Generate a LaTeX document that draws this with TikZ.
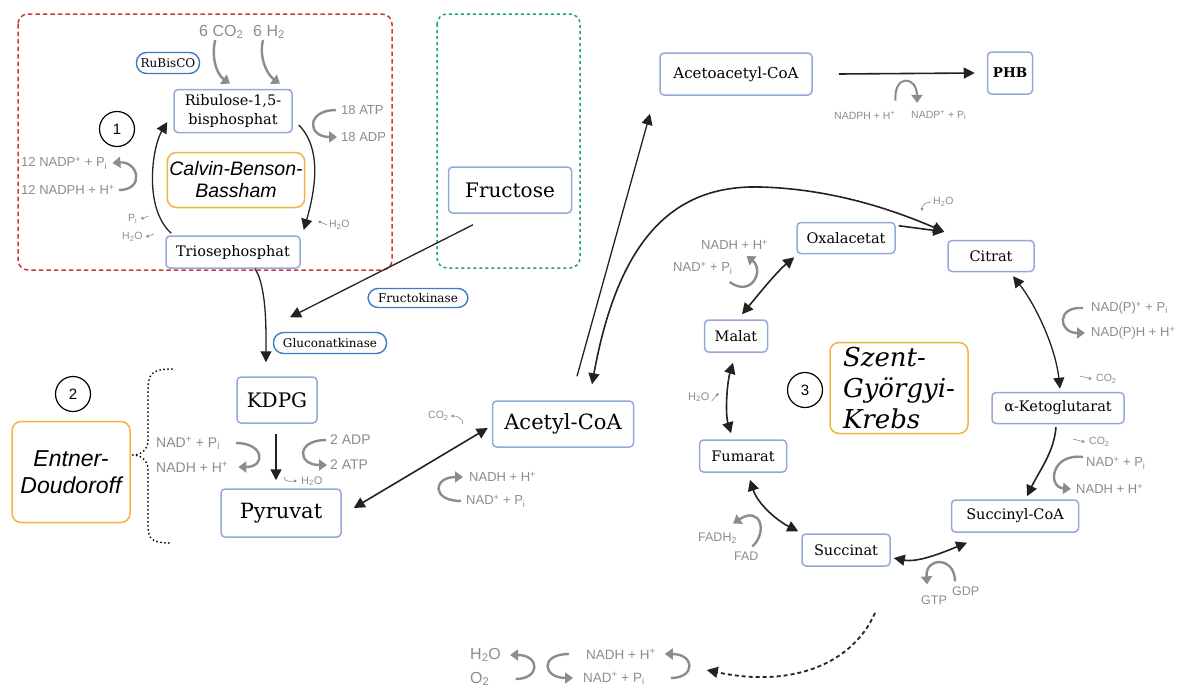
\documentclass[tikz,border=0pt]{standalone}
\usepackage{fontspec}
\setmainfont{DejaVu Serif}
\setsansfont{Liberation Sans}
\usetikzlibrary{arrows.meta,positioning}
\definecolor{box-blue}{HTML}{94A9D9}
\definecolor{enz-blue}{HTML}{3A7DC2}
\definecolor{path-orange}{HTML}{F2B440}
\definecolor{cbb-red}{HTML}{D1393B}
\definecolor{fru-teal}{HTML}{1B9E8E}
\definecolor{side-gray}{HTML}{8C8C8C}
\definecolor{arrow-black}{HTML}{222222}
\newcommand{\Pin}{P\textsubscript{i}}
\newcommand{\Hpl}{H\textsuperscript{+}}
\newcommand{\water}{H\textsubscript{2}O}
\newcommand{\cdiox}{CO\textsubscript{2}}

\begin{document}
\begin{tikzpicture}[x=1pt,y=-1pt,
  met/.style={draw=box-blue,line width=1.5pt,rounded corners=4pt,fill=white,inner sep=2pt,align=center,font=\fontsize{#1}{19}\selectfont},
  met/.default=14.5,
  enz/.style={draw=enz-blue,line width=1.4pt,rounded corners=10pt,inner sep=0pt,font=\fontsize{12}{14}\selectfont},
  pathbox/.style={draw=path-orange,line width=1.5pt,rounded corners=9pt,inner sep=2pt,align=center},
  num/.style={circle,draw,line width=1.2pt,minimum size=35pt,inner sep=0pt,font=\sffamily\fontsize{15}{15}\selectfont},
  side/.style={text=side-gray,inner sep=1pt,anchor=west,font=\sffamily\fontsize{#1}{#1}\selectfont},
  side/.default=13,
  flow/.style={arrow-black,line width=1.6pt,-{Triangle[length=11pt,width=11pt]}},
  twoway/.style={arrow-black,line width=1.6pt,{Triangle[length=11pt,width=11pt]}-{Triangle[length=11pt,width=11pt]}},
  loopar/.style={side-gray,line width=2.4pt,-{Triangle[length=8pt,width=11pt]}},
  tinyar/.style={side-gray,line width=0.6pt,-{Triangle[length=3pt,width=3pt]}},
]
\useasboundingbox (0,0) rectangle (1178,689);

% Calvin-Benson-Bassham
\draw[cbb-red,line width=1.5pt,dash pattern=on 4.5pt off 3pt,rounded corners=10pt] (18,14) rectangle (392,270);
\node[met,minimum width=118pt,minimum height=43pt] (rubp) at (233,111) {Ribulose-1,5-\\bisphosphat};
\node[met,minimum width=134pt,minimum height=32pt] (trio) at (233,252) {Triosephosphat};
\node[pathbox,minimum width=137pt,minimum height=55pt,font=\sffamily\itshape\fontsize{19.5}{22}\selectfont] (cbb) at (236,180) {Calvin-Benson-\\Bassham};
\node[num] (n1) at (117,129) {1};
\node[enz,minimum width=63pt,minimum height=21pt] (rubisco) at (168,63) {RuBisCO};
\node[side=16] (co2in) at (198,32) {6 \cdiox};
\node[side=16] (h2in) at (252,32) {6 H\textsubscript{2}};
\node[side] (atp) at (340,110) {18 ATP};
\node[side] (adp) at (340,137) {18 ADP};
\node[side] (nadpox) at (20,163) {12 NADP\textsuperscript{+} + \Pin};
\node[side] (nadph) at (20,190) {12 NADPH + \Hpl};
\node[side=10.5] (pia) at (127,219) {\Pin};
\node[side=10.5] (h2oa) at (121,237) {\water};
\node[side=10.5] (h2ob) at (328,225) {\water};
\draw[loopar] ([xshift=-6pt]co2in.south) .. controls +(-4,16) and +(-14,-10) .. ([shift={(-3,-5)}]rubp.north);
\draw[loopar] ([xshift=-6pt]h2in.south) .. controls +(-4,16) and +(-14,-10) .. ([shift={(47,-5)}]rubp.north);
\draw[loopar] ([xshift=-4pt]atp.west) .. controls +(-30,0) and +(-30,0) .. ([xshift=-3pt]adp.west);
\draw[loopar] ([xshift=3pt]nadph.east) .. controls +(26,0) and +(26,-2) .. ([xshift=4pt]nadpox.east);
\draw[tinyar] ([shift={(10,-3)}]pia.east) -- ([xshift=2pt]pia.east);
\draw[tinyar] ([shift={(10,-3)}]h2oa.east) -- ([xshift=2pt]h2oa.east);
\draw[tinyar] ([xshift=-1pt]h2ob.west) -- ([shift={(-10,-4)}]h2ob.west);
\draw[flow,line width=1.3pt] ([shift={(6,-2)}]trio.north west) .. controls +(-28,-25) and +(-15,25) .. ([shift={(-6,11)}]rubp.west);
\draw[flow,line width=1.3pt] ([shift={(6,14)}]rubp.east) .. controls +(25,25) and +(10,-35) .. ([shift={(3,-22)}]trio.east);

% Fructose
\draw[fru-teal,line width=1.5pt,dash pattern=on 3pt off 3pt,rounded corners=10pt] (437,14) rectangle (580,268);
\node[met=20,minimum width=123pt,minimum height=46pt] (fru) at (510,190) {Fructose};
\node[enz,minimum width=100pt,minimum height=19pt] (fruk) at (418,298) {Fructokinase};
\node[enz,minimum width=113pt,minimum height=21pt] (gluk) at (330,343) {Gluconatkinase};

% Entner-Doudoroff
\node[met=20,minimum width=80pt,minimum height=46pt] (kdpg) at (277,400) {KDPG};
\node[met=21,minimum width=120pt,minimum height=48pt] (pyr) at (281,513) {Pyruvat};
\node[pathbox,minimum width=118pt,minimum height=101pt,font=\sffamily\itshape\fontsize{23}{27}\selectfont] (ed) at (71,472) {Entner-\\Doudoroff};
\node[num] (n2) at (73,394) {2};
\node[side=14] (nadoxed) at (155,443) {NAD\textsuperscript{+} + \Pin};
\node[side=14] (nadhed) at (155,467) {NADH + \Hpl};
\node[side=14] (adp2) at (329,440) {2 ADP};
\node[side=14] (atp2) at (329,465) {2 ATP};
\node[side=11] (h2oc) at (300,481) {\water};
\draw[flow,line width=1.3pt] ([shift={(22,0)}]trio.south) .. controls +(12,18) and +(0,-30) .. ([shift={(-11,-14)}]kdpg.north);
\draw[flow,line width=1.3pt] ([shift={(-37,11)}]fru.south) -- ([shift={(13,-59)}]kdpg.north);
\draw[flow] ([shift={(-1,10)}]kdpg.south) -- ([shift={(-5,-8)}]pyr.north);
\draw[loopar] ([xshift=15pt]nadoxed.east) .. controls +(28,0) and +(28,0) .. ([xshift=9pt]nadhed.east);
\draw[loopar] ([xshift=-3pt]adp2.west) .. controls +(-30,0) and +(-30,0) .. ([xshift=-2pt]atp2.west);
\draw[tinyar] ([shift={(-16,-4)}]h2oc.west) .. controls +(0,6) and +(-4,0) .. ([xshift=-3pt]h2oc.west);
\draw[line width=2pt,line cap=round,dash pattern=on 0pt off 4pt] (172,369) .. controls (152,369) and (148,374) .. (148,390) -- (148,440) .. controls (148,450) and (141,455) .. ([shift={(2,-17)}]ed.east) .. controls (141,455) and (148,460) .. (148,470) -- (148,525) .. controls (148,540) and (152,543) .. (172,543);

% Acetyl-CoA and PHB
\node[met=21,minimum width=141pt,minimum height=46pt] (accoa) at (563,424) {Acetyl-CoA};
\node[met=15,minimum width=152pt,minimum height=42pt] (aacoa) at (736,74) {Acetoacetyl-CoA};
\node[met=13.5,minimum width=45pt,minimum height=42pt,font=\bfseries\fontsize{13.5}{16}\selectfont] (phb) at (1010,73) {PHB};
\node[side=10.5] (co2b) at (427,416) {\cdiox};
\node[side] (nadhac) at (468,477) {NADH + \Hpl};
\node[side] (nadac) at (465,501) {NAD\textsuperscript{+} + \Pin};
\node[side=10.5] (nadphb) at (833,115) {NADPH + \Hpl};
\node[side=10.5] (nadpb) at (910,115) {NADP\textsuperscript{+} + \Pin};
\draw[twoway] ([shift={(12,-5)}]pyr.east) -- ([shift={(-4,4)}]accoa.west);
\draw[tinyar] ([shift={(13,8)}]co2b.east) .. controls +(0,-7) and +(5,0) .. ([xshift=1pt]co2b.east);
\draw[loopar] ([xshift=-4pt]nadac.west) .. controls +(-30,0) and +(-30,0) .. ([xshift=-5pt]nadhac.west);
\draw[flow,line width=1.3pt] ([shift={(14,-24)}]accoa.north) -- ([shift={(-86,18)}]aacoa.south);
\draw[flow] ([xshift=26pt]aacoa.east) -- ([xshift=-12pt]phb.west);
\draw[loopar,line width=2pt] ([shift={(-1,-9)}]nadphb.north east) .. controls +(-2,-27) and +(0,-27) .. ([shift={(7,-6)}]nadpb.north west);

% Szent-Gyoergyi-Krebs
\node[met,minimum width=98pt,minimum height=31pt] (oaa) at (846,238) {Oxalacetat};
\node[met,minimum width=86pt,minimum height=31pt] (cit) at (991,256) {Citrat};
\node[met,minimum width=63pt,minimum height=32pt] (mal) at (736,336) {Malat};
\node[met,minimum width=132pt,minimum height=31pt] (akg) at (1058,408) {α-Ketoglutarat};
\node[met,minimum width=87pt,minimum height=32pt] (fum) at (743,456) {Fumarat};
\node[met,minimum width=127pt,minimum height=32pt] (sucoa) at (1015,516) {Succinyl-CoA};
\node[met,minimum width=88pt,minimum height=32pt] (suc) at (846,550) {Succinat};
\node[pathbox,minimum width=138pt,minimum height=91pt,align=left,font=\itshape\fontsize{26}{31}\selectfont] (skrebs) at (899,388) {Szent-\\Györgyi-\\Krebs};
\node[num] (n3) at (805,390) {3};
\node[side=10.5] (h2od) at (932,202) {\water};
\node[side] (nadhox) at (700,245) {NADH + \Hpl};
\node[side] (nadox) at (672,268) {NAD\textsuperscript{+} + \Pin};
\node[side=11] (h2oe) at (687,397) {\water};
\node[side=12.5] (fadh) at (697,538) {FADH\textsubscript{2}};
\node[side=12.5] (fad) at (733,556) {FAD};
\node[side=12.5] (gtp) at (920,600) {GTP};
\node[side=12.5] (gdp) at (951,591) {GDP};
\node[side] (nadpox3) at (1090,308) {NAD(P)\textsuperscript{+} + \Pin};
\node[side] (nadph3) at (1090,333) {NAD(P)H + \Hpl};
\node[side=10.5] (co2c) at (1095,379) {\cdiox};
\node[side=10.5] (co2d) at (1088,442) {\cdiox};
\node[side] (nad4) at (1085,463) {NAD\textsuperscript{+} + \Pin};
\node[side] (nadh4) at (1075,489) {NADH + \Hpl};
\draw[twoway] ([shift={(29,-16)}]accoa.north) .. controls (620,230) and (680,185) .. (760,187) .. controls (840,189) and (905,215) .. ([shift={(-3,-8)}]cit.north west);
\draw[flow] ([shift={(3,4)}]oaa.north east) -- ([shift={(-3,-8)}]cit.north west);
\draw[twoway] ([shift={(6,-5)}]mal.north) .. controls +(15,-18) and +(-18,15) .. ([shift={(-2,3)}]oaa.south west);
\draw[twoway] ([shift={(-3,10)}]mal.south) .. controls +(-6,20) and +(-6,-20) .. ([shift={(-12,-6)}]fum.north);
\draw[twoway] ([shift={(7,7)}]fum.south) .. controls +(8,25) and +(-20,-10) .. ([shift={(-3,-2)}]suc.north west);
\draw[twoway] ([shift={(3,8)}]suc.east) .. controls +(25,5) and +(-20,8) .. ([shift={(-48,10)}]sucoa.south);
\draw[flow] ([shift={(-2,3)}]akg.south) .. controls +(-2,25) and +(12,-25) .. ([shift={(12,-3)}]sucoa.north);
\draw[twoway,line width=1.3pt] ([shift={(22,4)}]cit.south) .. controls +(20,25) and +(-5,-45) .. ([shift={(2,-3)}]akg.north);
\draw[tinyar] ([xshift=-1pt]h2od.west) .. controls +(-6,0) and +(0,-5) .. ([shift={(-10,9)}]h2od.west);
\draw[loopar] ([shift={(-4,14)}]nadox.east) .. controls +(22,16) and +(18,14) .. ([shift={(12,5)}]nadhox.south);
\draw[tinyar] ([shift={(1,4)}]h2oe.east) -- ([shift={(8,-4)}]h2oe.east);
\draw[loopar] ([shift={(6,-4)}]fad.north) .. controls +(16,-15) and +(27,-18) .. ([shift={(-5,-8)}]fadh.north east);
\draw[loopar] ([shift={(4,-4)}]gdp.north west) .. controls +(0,-25) and +(-2,-28) .. ([shift={(-7,-10)}]gtp.north);
\draw[loopar] ([xshift=-7pt]nadpox3.west) .. controls +(-27,-2) and +(-27,0) .. ([xshift=-5pt]nadph3.west);
\draw[tinyar] ([shift={(-15,-3)}]co2c.west) -- ([xshift=-3pt]co2c.west);
\draw[tinyar] ([shift={(-15,-3)}]co2d.west) -- ([xshift=-3pt]co2d.west);
\draw[loopar] ([shift={(-2,-6)}]nad4.west) .. controls +(-32,-4) and +(-24,-2) .. ([xshift=-4pt]nadh4.west);

% respiration
\node[side=16] (h2obot) at (469,655) {\water};
\node[side=16] (o2bot) at (469,679) {O\textsubscript{2}};
\node[side=13.5] (nadhbot) at (585,654) {NADH + \Hpl};
\node[side=13.5] (nadbot) at (582,678) {NAD\textsuperscript{+} + \Pin};
\coordinate (resp) at (875,613);
\draw[arrow-black,line width=1.8pt,dash pattern=on 4pt off 3pt,-{Triangle[length=11pt,width=11pt]}] (resp) .. controls (852,665) and (790,688) .. ([shift={(50,16)}]nadhbot.east);
\draw[loopar] ([xshift=25pt]nadbot.east) .. controls +(25,0) and +(30,0) .. ([xshift=8pt]nadhbot.east);
\draw[loopar] ([xshift=-16pt]nadhbot.west) .. controls +(-30,0) and +(-30,0) .. ([xshift=-9pt]nadbot.west);
\draw[loopar] ([xshift=25pt]o2bot.east) .. controls +(25,0) and +(30,0) .. ([xshift=8pt]h2obot.east);
\end{tikzpicture}
\end{document}
